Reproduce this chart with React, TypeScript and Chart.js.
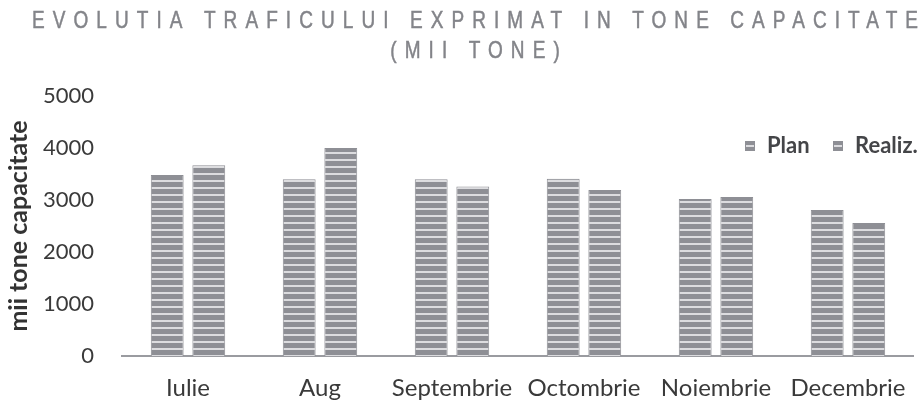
import React, { useEffect, useRef } from 'react';
import { Chart, registerables } from 'chart.js';

Chart.register(...registerables);

const categories = ['Iulie', 'Aug', 'Septembrie', 'Octombrie', 'Noiembrie', 'Decembrie'];
const planValues = [3480, 3400, 3400, 3410, 3020, 2810];
const realizValues = [3670, 4000, 3260, 3190, 3060, 2560];
const seriesNames = ['Plan', 'Realiz.'];
const titleLines = ['EVOLUTIA TRAFICULUI EXPRIMAT IN TONE CAPACITATE', '(MII TONE)'];
const yAxisTitle = 'mii tone capacitate';
const yMin = 0;
const yMax = 5000;
const yStep = 1000;

const TEXT_FONT = 'Lato, "Open Sans", sans-serif';
const BAR_GRAY = '#8e8f95';
const STRIPE_LIGHT = '#dcdcdf';

function makePattern(): CanvasPattern | string {
  const c = document.createElement('canvas');
  c.width = 8;
  c.height = 7;
  const ctx = c.getContext('2d');
  if (!ctx) return BAR_GRAY;
  ctx.fillStyle = BAR_GRAY;
  ctx.fillRect(0, 0, 8, 7);
  ctx.fillStyle = STRIPE_LIGHT;
  ctx.fillRect(0, 5, 8, 2);
  return ctx.createPattern(c, 'repeat') || BAR_GRAY;
}

const titlePlugin = {
  id: 'spacedTitle',
  afterDraw(chart: any) {
    const ctx = chart.ctx as CanvasRenderingContext2D;
    ctx.save();
    ctx.font = '19px "Liberation Sans", Arial, sans-serif';
    ctx.fillStyle = '#838489';
    ctx.strokeStyle = '#838489';
    ctx.lineWidth = 0.4;
    ctx.textBaseline = 'middle';
    ctx.textAlign = 'left';
    (ctx as any).letterSpacing = '0px';
    const first = titleLines[0];
    const w0 = ctx.measureText(first).width;
    const targetWidth = 886;
    const spacing = (targetWidth - w0) / (first.length - 1);
    const centerX = 475;
    const ys = [21.5, 51.5];
    const vScale = 1.25;
    titleLines.forEach((line, i) => {
      (ctx as any).letterSpacing = '0px';
      const w = ctx.measureText(line).width;
      const total = w + spacing * (line.length - 1);
      (ctx as any).letterSpacing = spacing + 'px';
      ctx.save();
      ctx.translate(centerX - total / 2, ys[i]);
      ctx.scale(1, vScale);
      ctx.fillText(line, 0, 0);
      ctx.strokeText(line, 0, 0);
      ctx.restore();
    });
    (ctx as any).letterSpacing = '0px';
    ctx.restore();
  },
};

const legendPlugin = {
  id: 'insideLegend',
  afterDraw(chart: any) {
    const ctx = chart.ctx as CanvasRenderingContext2D;
    ctx.save();
    ctx.font = 'bold 22px ' + TEXT_FONT;
    ctx.textBaseline = 'middle';
    ctx.textAlign = 'left';
    const y = 146;
    const boxXs = [745, 833];
    chart.data.datasets.forEach((ds: any, i: number) => {
      const bx = boxXs[i];
      ctx.fillStyle = ds.backgroundColor;
      ctx.fillRect(bx, y - 5, 10, 10);
      ctx.strokeStyle = BAR_GRAY;
      ctx.lineWidth = 1;
      ctx.strokeRect(bx + 0.5, y - 4.5, 9, 9);
      ctx.fillStyle = '#444548';
      ctx.fillText(ds.label, bx + 22, y);
    });
    ctx.restore();
  },
};

export default function App() {
  const canvasRef = useRef<HTMLCanvasElement | null>(null);

  useEffect(() => {
    if (!canvasRef.current) return;
    const pattern = makePattern();
    const chart = new Chart(canvasRef.current, {
      type: 'bar',
      data: {
        labels: categories,
        datasets: [
          {
            label: seriesNames[0],
            data: planValues,
            backgroundColor: pattern as any,
            borderColor: BAR_GRAY,
            borderWidth: { left: 1, right: 1, top: 1, bottom: 0 },
            borderSkipped: false,
          },
          {
            label: seriesNames[1],
            data: realizValues,
            backgroundColor: pattern as any,
            borderColor: BAR_GRAY,
            borderWidth: { left: 1, right: 1, top: 1, bottom: 0 },
            borderSkipped: false,
          },
        ],
      },
      options: {
        animation: false,
        responsive: false,
        maintainAspectRatio: false,
        devicePixelRatio: 1,
        categoryPercentage: 0.63,
        barPercentage: 0.79,
        layout: { padding: { left: 0, right: 6, top: 96, bottom: 0 } },
        plugins: {
          legend: { display: false },
          title: { display: false },
          tooltip: { enabled: false },
        },
        scales: {
          x: {
            grid: { display: false, drawTicks: false },
            border: { display: true, color: '#9a9ba0', width: 2 },
            ticks: {
              color: '#3a3a3a',
              font: { family: TEXT_FONT, size: 24 },
              padding: 18,
              maxRotation: 0,
              autoSkip: false,
            },
            afterFit(scale: any) {
              scale.height = 44;
            },
          },
          y: {
            min: yMin,
            max: yMax,
            grid: { display: false, drawTicks: false },
            border: { display: false },
            ticks: {
              stepSize: yStep,
              color: '#3a3a3a',
              font: { family: TEXT_FONT, size: 22 },
              padding: 28,
              callback: (v: any) => String(v),
            },
            title: {
              display: true,
              text: yAxisTitle,
              color: '#333333',
              font: { family: TEXT_FONT, size: 25, weight: 'bold' },
              padding: { top: 4, bottom: 0 },
            },
            afterFit(scale: any) {
              scale.width = 122;
            },
          },
        },
      },
      plugins: [titlePlugin, legendPlugin],
    });
    return () => chart.destroy();
  }, []);

  return (
    <div style={{ position: 'fixed', left: 0, top: 0, width: 924, height: 400, background: '#ffffff' }}>
      <canvas ref={canvasRef} width={924} height={400} style={{ width: 924, height: 400, display: 'block' }} />
    </div>
  );
}
